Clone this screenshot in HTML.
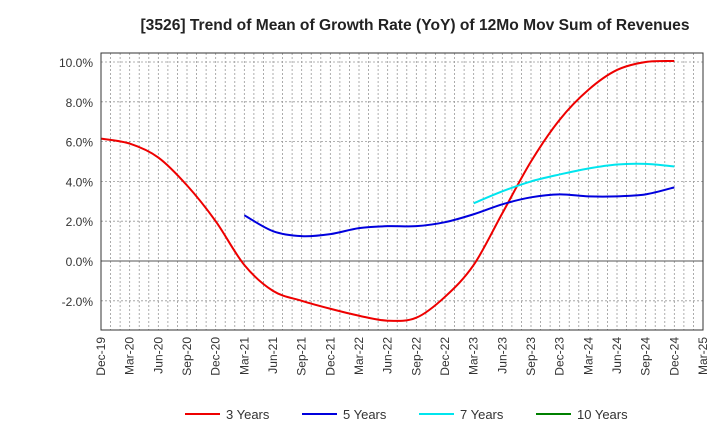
<!DOCTYPE html>
<html><head><meta charset="utf-8"><style>
body{margin:0;background:#fff;font-family:"Liberation Sans",Arial,sans-serif}
svg text{font-family:"Liberation Sans",Arial,sans-serif}
</style></head><body>
<svg id="chart" width="720" height="440" xmlns="http://www.w3.org/2000/svg">
<text x="415" y="30" text-anchor="middle" font-size="15.6" font-weight="bold" fill="#222">[3526]  Trend of Mean of Growth Rate (YoY) of 12Mo Mov Sum of Revenues</text>
<g id="grid"></g><g id="series"></g><g id="axes"></g><g id="legend"></g>
</svg>
<script>
const xLabels=["Dec-19","Mar-20","Jun-20","Sep-20","Dec-20","Mar-21","Jun-21","Sep-21","Dec-21","Mar-22","Jun-22","Sep-22","Dec-22","Mar-23","Jun-23","Sep-23","Dec-23","Mar-24","Jun-24","Sep-24","Dec-24","Mar-25"];
const yTicks=[-2,0,2,4,6,8,10];
const s3=[6.15,5.9,5.2,3.8,2.0,-0.2,-1.5,-2.0,-2.4,-2.75,-3.0,-2.85,-1.8,-0.2,2.4,5.0,7.1,8.6,9.6,10.0,10.05];
const s3Start=0;
const s5=[2.3,1.5,1.25,1.35,1.65,1.75,1.75,1.95,2.35,2.85,3.2,3.35,3.25,3.25,3.35,3.7];
const s5Start=5;
const s7=[2.9,3.5,4.0,4.35,4.65,4.85,4.88,4.75];
const s7Start=13;
const L=101,R=703,T=53,B=330;
const X=q=>L+q*3*(R-L)/63;
const Y=v=>261-v*19.9;
const NS="http://www.w3.org/2000/svg";
function mk(tag,at,parent){const e=document.createElementNS(NS,tag);for(const k in at)e.setAttribute(k,at[k]);document.getElementById(parent).appendChild(e);return e;}
for(let m=0;m<=63;m++){const x=L+m*(R-L)/63;
const g=mk('line',{x1:x,x2:x,y1:T,y2:B,stroke:'#999','stroke-dasharray':'2,2','stroke-width':0.8},'grid');

}
for(let v=-2;v<=10;v+=2){const y=Y(v);
const g=mk('line',{x1:L,x2:R,y1:y,y2:y,stroke:v===0?'#555':'#999','stroke-dasharray':v===0?'none':'2,2','stroke-width':v===0?1:0.8},'grid');

}
const fr=mk('rect',{x:L,y:T,width:R-L,height:B-T,fill:'none',stroke:'#333'},'axes');


yTicks.forEach(v=>{const t=mk('text',{x:L-8,y:Y(v)+5,'text-anchor':'end','font-size':12,fill:'#333'},'axes');t.textContent=v.toFixed(1)+'%';

});
xLabels.forEach((s,i)=>{const x=X(i);const t=mk('text',{x:0,y:0,'text-anchor':'end','font-size':12,fill:'#333',transform:`translate(${x+4},${B+7}) rotate(-90)`},'axes');t.textContent=s;

});
function path(arr,start){const p=arr.map((v,i)=>[X(start+i),Y(v)]);let d=`M${p[0][0]},${p[0][1]}`;
for(let i=0;i<p.length-1;i++){const p0=p[i-1]||p[i],p1=p[i],p2=p[i+1],p3=p[i+2]||p2;
d+=` C${p1[0]+(p2[0]-p0[0])/6},${p1[1]+(p2[1]-p0[1])/6} ${p2[0]-(p3[0]-p1[0])/6},${p2[1]-(p3[1]-p1[1])/6} ${p2[0]},${p2[1]}`;}return d;}
[[s3,s3Start,'#ee0000','line-3-years'],[s5,s5Start,'#0000dd','line-5-years'],[s7,s7Start,'#00e5ee','line-7-years']].forEach(([a,s,c,n])=>{
const e=mk('path',{d:path(a,s),fill:'none',stroke:c,'stroke-width':2},'series');

});
[['3 Years','#ee0000',185],['5 Years','#0000dd',302],['7 Years','#00e5ee',419],['10 Years','#008000',536]].forEach(([t,c,x])=>{
const l=mk('line',{x1:x,x2:x+35,y1:414,y2:414,stroke:c,'stroke-width':2},'legend');


const tx=mk('text',{x:x+41,y:419,'font-size':13,fill:'#333'},'legend');tx.textContent=t;

});
</script>
</body></html>
